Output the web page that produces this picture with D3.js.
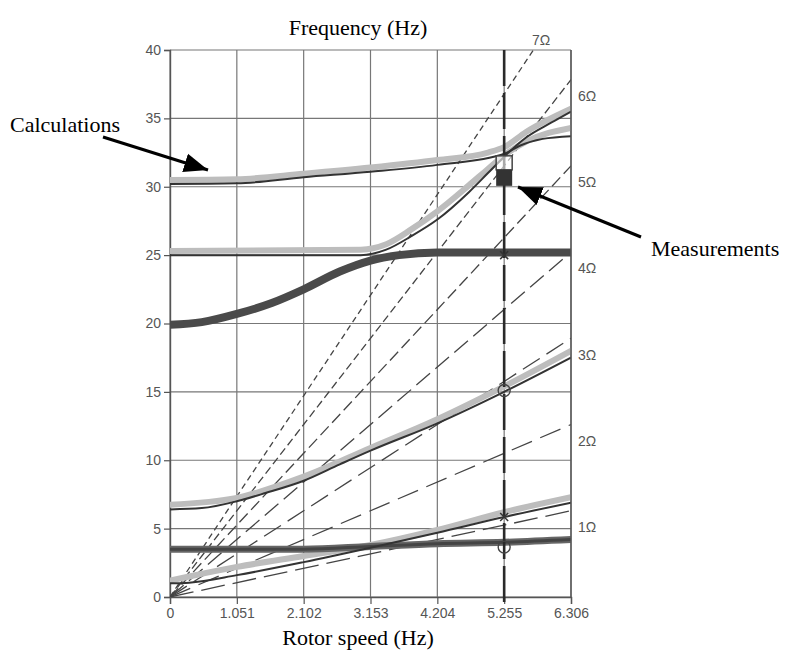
<!DOCTYPE html>
<html>
<head>
<meta charset="utf-8">
<script src="https://cdn.jsdelivr.net/npm/d3@7"></script>
<style>
  body { margin: 0; background: #fff; }
  .tick-lbl { font-family: "Liberation Sans", Arial, sans-serif; font-size: 14px; fill: #555; }
  .title { font-family: "Liberation Serif", "Times New Roman", serif; font-size: 22px; fill: #000; }
</style>
</head>
<body>
<script>
// rotor speed ticks (Hz)
const xTicks = [0, 1.051, 2.102, 3.153, 4.204, 5.255, 6.306];
const yTicks = [0, 5, 10, 15, 20, 25, 30, 35, 40];
const orders = [1, 2, 3, 4, 5, 6, 7];
const orderDash = ["24,8", "22,9", "20,8", "18,7", "12,5", "8,4", "6,4"];

// calculated modes: light band + dark line
const bandA = [[0,30.5],[1.051,30.55],[2.102,30.95],[3.153,31.4],[4.204,31.95],[5.0,32.5],[5.255,32.9],[5.6,34.0],[6.306,35.7]];
const lineA = [[0,30.2],[1.051,30.25],[2.102,30.7],[3.153,31.1],[4.204,31.6],[5.255,32.4],[5.5,33.0],[5.86,33.5],[6.306,33.7]];
const bandB = [[0,25.3],[3.0,25.4],[3.4,25.8],[3.8,26.9],[4.204,28.2],[4.7,30.1],[5.0,31.3],[5.255,32.3],[5.6,33.3],[6.306,34.3]];
const lineB = [[0,25.0],[3.0,25.0],[3.4,25.4],[3.8,26.4],[4.204,27.6],[4.7,29.6],[5.0,31.0],[5.255,32.2],[5.6,33.6],[6.0,34.7],[6.306,35.5]];
const lineC = [[0,19.9],[0.5,20.1],[1.051,20.7],[1.6,21.5],[2.102,22.5],[2.67,23.8],[3.153,24.6],[3.6,25.0],[4.204,25.2],[5.255,25.2],[6.306,25.2]];
const bandD = [[0,6.75],[1.051,7.25],[2.102,8.8],[3.153,10.9],[4.204,13.0],[5.255,15.4],[6.306,18.0]];
const lineD = [[0,6.4],[0.5,6.5],[1.051,7.0],[1.5,7.6],[2.102,8.5],[2.67,9.7],[3.153,10.7],[4.204,12.7],[5.255,15.0],[6.306,17.5]];
const lineE = [[0,3.5],[2.102,3.5],[3.153,3.7],[4.204,3.9],[5.255,4.0],[6.306,4.2]];
const bandF = [[0,1.2],[0.3,1.5],[1.051,2.2],[2.102,3.0],[3.153,3.8],[4.204,4.9],[5.255,6.2],[6.306,7.3]];
const lineF = [[0,1.0],[0.3,1.05],[1.051,1.6],[2.102,2.55],[3.153,3.6],[4.204,4.7],[5.255,5.85],[6.306,6.9]];

// measurements at 5.255 Hz rotor speed
const measSpeed = 5.255;
const measValues = [31.75, 30.65, 25.0, 15.1, 5.85, 3.65];
const measKinds = ["square", "filled", "x", "circle", "x", "circle"];

const W = 788, H = 654;
const svg = d3.select("body").append("svg").attr("width", W).attr("height", H);

const x = d3.scaleLinear().domain([0, 6.306]).range([170, 571]);
const y = d3.scaleLinear().domain([0, 40]).range([597, 50]);

svg.append("clipPath").attr("id", "plot")
  .append("rect").attr("x", 170).attr("y", 50).attr("width", 401).attr("height", 547);

// grid
const grid = svg.append("g").attr("stroke", "#777").attr("stroke-width", 1.2);
grid.selectAll(".v").data(xTicks).join("line")
  .attr("x1", d => x(d)).attr("x2", d => x(d)).attr("y1", y(40)).attr("y2", y(0));
grid.selectAll(".h").data(yTicks).join("line")
  .attr("x1", x(0)).attr("x2", x(6.306)).attr("y1", d => y(d)).attr("y2", d => y(d));

// axes
const yAxis = svg.append("g").attr("transform", `translate(${x(0)},0)`)
  .call(d3.axisLeft(y).tickValues(yTicks).tickSize(6).tickPadding(3).tickFormat(d3.format("d")));
const xAxis = svg.append("g").attr("transform", `translate(0,${y(0)})`)
  .call(d3.axisBottom(x).tickValues(xTicks).tickSize(7).tickPadding(4)
    .tickFormat(d => d === 0 ? "0" : d3.format(".3f")(d)));
[yAxis, xAxis].forEach(a => {
  a.attr("font-size", null).attr("font-family", null);
  a.select(".domain").attr("stroke", "#555").attr("stroke-width", 1.4);
  a.selectAll(".tick line").attr("stroke", "#555").attr("stroke-width", 1.2);
  a.selectAll("text").attr("class", "tick-lbl").attr("fill", null);
});

const plot = svg.append("g").attr("clip-path", "url(#plot)");
const line = d3.line().x(d => x(d[0])).y(d => y(d[1])).curve(d3.curveMonotoneX);

// order lines nΩ
plot.selectAll(".order").data(orders).join("line")
  .attr("x1", x(0)).attr("y1", y(0))
  .attr("x2", d => x(Math.min(6.306, 40 / d)))
  .attr("y2", d => y(Math.min(40, d * 6.306)))
  .attr("stroke", "#444").attr("stroke-width", 1.3)
  .attr("stroke-dasharray", (d, i) => orderDash[i]);

// light calculation bands
[bandA, bandB, bandD, bandF].forEach(b => {
  plot.append("path").attr("d", line(b)).attr("fill", "none")
    .attr("stroke", "#bdbdbd").attr("stroke-width", 6).attr("stroke-linecap", "round");
});
// thick modes
plot.append("path").attr("d", line(lineC)).attr("fill", "none")
  .attr("stroke", "#4a4a4a").attr("stroke-width", 8);
plot.append("path").attr("d", line(lineE)).attr("fill", "none")
  .attr("stroke", "#666").attr("stroke-width", 7);
plot.append("path").attr("d", line(lineE)).attr("fill", "none")
  .attr("stroke", "#444").attr("stroke-width", 3);
// dark calculation lines
[lineA, lineB, lineD, lineF].forEach(l => {
  plot.append("path").attr("d", line(l)).attr("fill", "none")
    .attr("stroke", "#333").attr("stroke-width", 2);
});

// plot frame right
svg.append("line").attr("x1", x(6.306)).attr("x2", x(6.306)).attr("y1", y(40)).attr("y2", y(0))
  .attr("stroke", "#555").attr("stroke-width", 1.4);

// measurement line
svg.append("line").attr("x1", x(measSpeed)).attr("x2", x(measSpeed))
  .attr("y1", y(40)).attr("y2", y(0) + 6)
  .attr("stroke", "#2a2a2a").attr("stroke-width", 2.6).attr("stroke-dasharray", "36,7");

const mk = svg.append("g");
measValues.forEach((v, i) => {
  const cx = x(measSpeed), cy = y(v), k = measKinds[i];
  if (k === "square") {
    mk.append("rect").attr("x", cx - 8).attr("y", cy - 7).attr("width", 16).attr("height", 14)
      .attr("fill", "#fff").attr("fill-opacity", 0.6).attr("stroke", "#444").attr("stroke-width", 1.5);
  } else if (k === "filled") {
    mk.append("rect").attr("x", cx - 8).attr("y", cy - 8).attr("width", 16).attr("height", 16)
      .attr("fill", "#333");
  } else if (k === "x") {
    mk.append("path").attr("d", `M${cx-4},${cy-4}L${cx+4},${cy+4}M${cx+4},${cy-4}L${cx-4},${cy+4}`)
      .attr("stroke", "#333").attr("stroke-width", 1.5);
  } else {
    mk.append("circle").attr("cx", cx).attr("cy", cy).attr("r", 6)
      .attr("fill", "none").attr("stroke", "#444").attr("stroke-width", 1.4);
  }
});

// Ω labels
svg.selectAll(".om").data(orders.slice(0, 6)).join("text")
  .attr("class", "tick-lbl").attr("x", 578).attr("y", d => y(d * 6.306 - 1.2) + 5)
  .text(d => d + "Ω");
svg.append("text").attr("class", "tick-lbl").attr("x", 532).attr("y", 45).text("7Ω");

// titles
svg.append("text").attr("class", "title").attr("x", 358).attr("y", 35)
  .attr("text-anchor", "middle").text("Frequency (Hz)");
svg.append("text").attr("class", "title").attr("x", 358).attr("y", 645)
  .attr("text-anchor", "middle").text("Rotor speed (Hz)");
svg.append("text").attr("class", "title").attr("x", 10).attr("y", 132).text("Calculations");
svg.append("text").attr("class", "title").attr("x", 651).attr("y", 256).text("Measurements");

// arrows
svg.append("defs").append("marker").attr("id", "ah")
  .attr("viewBox", "0 0 10 10").attr("refX", 10).attr("refY", 5)
  .attr("markerWidth", 24).attr("markerHeight", 24).attr("markerUnits", "userSpaceOnUse")
  .attr("orient", "auto")
  .append("path").attr("d", "M0,1L10,5L0,9Z").attr("fill", "#000");
svg.append("line").attr("x1", 103).attr("y1", 137).attr("x2", 208).attr("y2", 170)
  .attr("stroke", "#000").attr("stroke-width", 3).attr("marker-end", "url(#ah)");
svg.append("line").attr("x1", 641).attr("y1", 237).attr("x2", 518).attr("y2", 187)
  .attr("stroke", "#000").attr("stroke-width", 3).attr("marker-end", "url(#ah)");
</script>
</body>
</html>
